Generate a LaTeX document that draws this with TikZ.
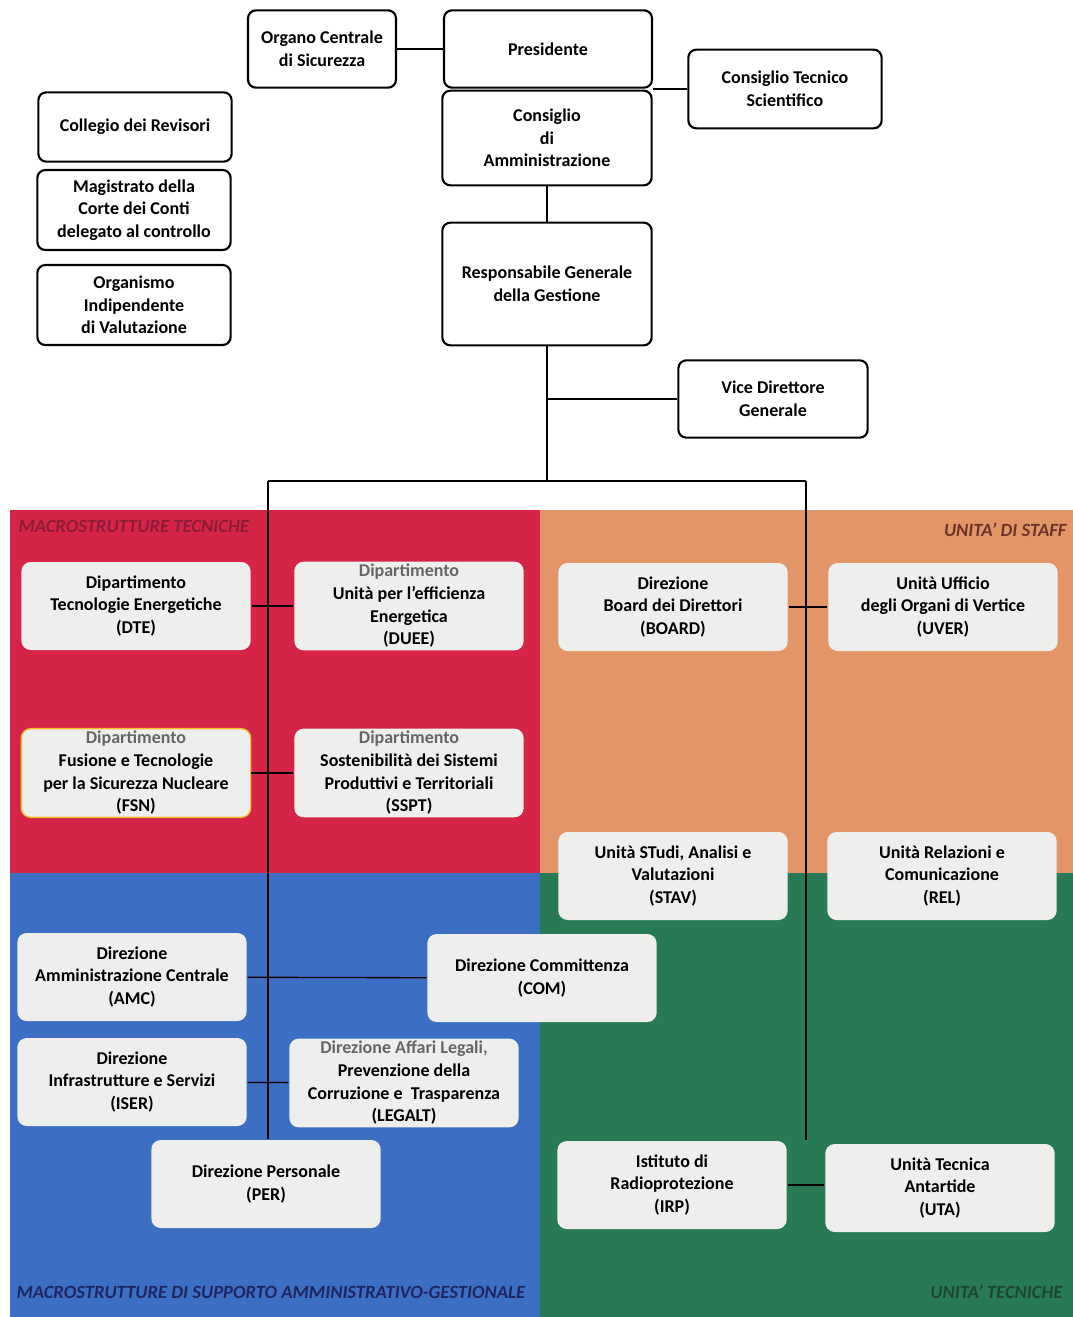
\documentclass[tikz,border=0pt]{standalone}
\usepackage{fontspec}
\setmainfont{Carlito}[BoldItalicFont={Carlito Bold Italic}]
\definecolor{tecred}{RGB}{214,36,72}
\definecolor{stafforange}{RGB}{226,150,104}
\definecolor{suppblue}{RGB}{60,110,196}
\definecolor{tecgreen}{RGB}{40,122,84}
\definecolor{boxgrey}{RGB}{238,238,236}
\begin{document}
\begin{tikzpicture}
[x=0.75pt,y=-0.75pt,line width=1.3pt,%
  every node/.style={font=\fontsize{13.5}{17}\selectfont\bfseries,align=center,inner sep=2pt},
  topbox/.style={draw,line width=1.6pt,rounded corners=6pt,fill=white},
  unitbox/.style={fill=boxgrey,rounded corners=7pt,minimum width=172pt,minimum height=66pt},
  arealabel/.style={font=\fontsize{14}{16}\selectfont\bfseries\itshape}]
\fill[white] (0,0) rectangle (1073,1317);
\fill[tecred] (10,510) rectangle (540,873);
\fill[stafforange] (540,510) rectangle (1073,873);
\fill[suppblue] (10,873) rectangle (540,1317);
\fill[tecgreen] (540,873) rectangle (1073,1317);

\node[arealabel,text={rgb,255:red,140;green,28;blue,52},anchor=west] (labtec) at (15,526) {MACROSTRUTTURE TECNICHE};
\node[arealabel,text={rgb,255:red,110;green,52;blue,40},anchor=east] (labstaff) at (1070,530) {UNITA' DI STAFF};
\node[arealabel,text={rgb,255:red,30;green,38;blue,96},anchor=west] (labsupp) at (13,1292) {MACROSTRUTTURE DI SUPPORTO AMMINISTRATIVO-GESTIONALE};
\node[arealabel,text={rgb,255:red,30;green,70;blue,52},anchor=east] (labunit) at (1066,1292) {UNITA' TECNICHE};

\node[topbox,minimum width=111pt,minimum height=58pt] (ocs) at (322,49) {Organo Centrale\\di Sicurezza};
\node[topbox,minimum width=156pt,minimum height=58pt] (pres) at (548,49) {Presidente};
\node[topbox,minimum width=157pt,minimum height=71pt] (cda) at (547,138) {Consiglio\\di\\Amministrazione};
\node[topbox,minimum width=145pt,minimum height=59pt] (cts) at (785,89) {Consiglio Tecnico\\Scientifico};
\node[topbox,minimum width=157pt,minimum height=92pt] (rgg) at (547,284) {Responsabile Generale\\della Gestione};
\node[topbox,minimum width=142pt,minimum height=58pt] (vdg) at (773,399) {Vice Direttore\\Generale};
\node[topbox,minimum width=145pt,minimum height=52pt] (rev) at (135,127) {Collegio dei Revisori};
\node[topbox,minimum width=145pt,minimum height=60pt] (mag) at (134,210) {Magistrato della\\Corte dei Conti\\delegato al controllo};
\node[topbox,minimum width=145pt,minimum height=60pt] (oiv) at (134,305) {Organismo\\Indipendente\\di Valutazione};

\coordinate (hub) at (547,481);
\coordinate (barL) at (268,481);
\coordinate (barR) at (806,481);
\draw (ocs) -- (pres);
\draw (cts.west) -- (cts.west -| pres.east);
\draw (cda) -- (rgg);
\draw (rgg) -- (hub);
\draw (vdg.west) -- (vdg.west -| hub);
\draw (barL) -- (barR);

\node[unitbox] (dte) at (136,606) {Dipartimento\\Tecnologie Energetiche\\(DTE)};
\node[unitbox] (duee) at (409,606) {\textcolor{black!60}{Dipartimento}\\Unità per l’efficienza\\Energetica\\(DUEE)};
\node[unitbox,draw={rgb,255:red,240;green,190;blue,40},line width=1pt] (fsn) at (136,773) {\textcolor{black!60}{Dipartimento}\\Fusione e Tecnologie\\per la Sicurezza Nucleare\\(FSN)};
\node[unitbox] (sspt) at (409,773) {\textcolor{black!60}{Dipartimento}\\Sostenibilità dei Sistemi\\Produttivi e Territoriali\\(SSPT)};
\node[unitbox] (board) at (673,607) {Direzione\\Board dei Direttori\\(BOARD)};
\node[unitbox] (uver) at (943,607) {Unità Ufficio\\degli Organi di Vertice\\(UVER)};
\node[unitbox] (stav) at (673,876) {Unità STudi, Analisi e\\Valutazioni\\(STAV)};
\node[unitbox] (rel) at (942,876) {Unità Relazioni e\\Comunicazione\\(REL)};
\node[unitbox] (amc) at (132,977) {Direzione\\Amministrazione Centrale\\(AMC)};
\node[unitbox] (com) at (542,978) {Direzione Committenza\\(COM)};
\node[unitbox] (iser) at (132,1082) {Direzione\\Infrastrutture e Servizi\\(ISER)};
\node[unitbox] (legalt) at (404,1083) {\textcolor{black!60}{Direzione Affari Legali,}\\Prevenzione della\\Corruzione e\ \ Trasparenza\\(LEGALT)};
\node[unitbox] (per) at (266,1184) {Direzione Personale\\(PER)};
\node[unitbox] (irp) at (672,1185) {Istituto di\\Radioprotezione\\(IRP)};
\node[unitbox] (uta) at (940,1188) {Unità Tecnica\\Antartide\\(UTA)};

\draw (barL) -- (barL |- per.north);
\draw (barR) -- (barR |- irp.north);
\draw[line width=1pt] (dte) -- (duee);
\draw[line width=1pt] (fsn) -- (sspt);
\draw[line width=1pt] (board) -- (uver);
\draw[line width=1pt] (amc) -- (com);
\draw[line width=1pt] (iser) -- (legalt);
\draw[line width=1pt] (irp.east) -- (irp.east -| uta.west);
\end{tikzpicture}
\end{document}
